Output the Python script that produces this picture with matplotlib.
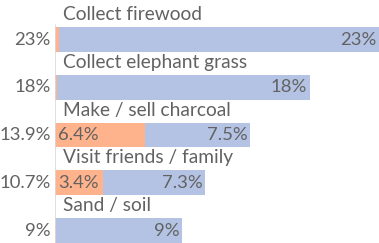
import matplotlib
matplotlib.use("Agg")
import matplotlib.pyplot as plt

categories = ["Collect firewood", "Collect elephant grass", "Make / sell charcoal",
              "Visit friends / family", "Sand / soil"]
orange_vals = [0.3, 0.15, 6.4, 3.4, 0.05]
blue_vals = [23, 18, 7.5, 7.3, 9]
total_labels = ["23%", "18%", "13.9%", "10.7%", "9%"]
orange_labels = ["", "", "6.4%", "3.4%", ""]
blue_labels = ["23%", "18%", "7.5%", "7.3%", "9%"]

BLUE = "#B4C3E3"
ORANGE = "#FFB38C"
TXT = "#626262"
FONT = "Lato"
FS = 13.3
FS_CAT = 13.8

fig = plt.figure(figsize=(3.79, 2.43), dpi=100)
ax = fig.add_axes([55 / 379, 0, 1 - 55 / 379, 1])

ypos = list(range(len(categories)))
h = 0.52
ax.barh(ypos, orange_vals, height=h, color=ORANGE, edgecolor="none")
ax.barh(ypos, blue_vals, left=orange_vals, height=h, color=BLUE, edgecolor="none")

ax.set_xlim(0, 23.05)
ax.set_ylim(4.26, -0.827)

for i in ypos:
    end = orange_vals[i] + blue_vals[i]
    ax.text(-0.3, i, total_labels[i], ha="right", va="center", color=TXT,
            fontsize=FS, family=FONT, clip_on=False)
    ax.text(0.55, i - 0.52, categories[i], ha="left", va="center", color=TXT,
            fontsize=FS_CAT, family=FONT)
    if orange_labels[i]:
        ax.text(0.2, i, orange_labels[i], ha="left", va="center", color=TXT,
                fontsize=FS, family=FONT)
    ax.text(min(end, 23.05) - 0.2, i, blue_labels[i], ha="right", va="center",
            color=TXT, fontsize=FS, family=FONT)

ax.axvline(0, ymin=0, ymax=(4.26 - (-0.3)) / (4.26 + 0.827), color="#D9D9D9", lw=1.2)
for s in ax.spines.values():
    s.set_visible(False)
ax.set_xticks([])
ax.set_yticks([])
ax.patch.set_alpha(0)

fig.savefig("out.png", dpi=100)
